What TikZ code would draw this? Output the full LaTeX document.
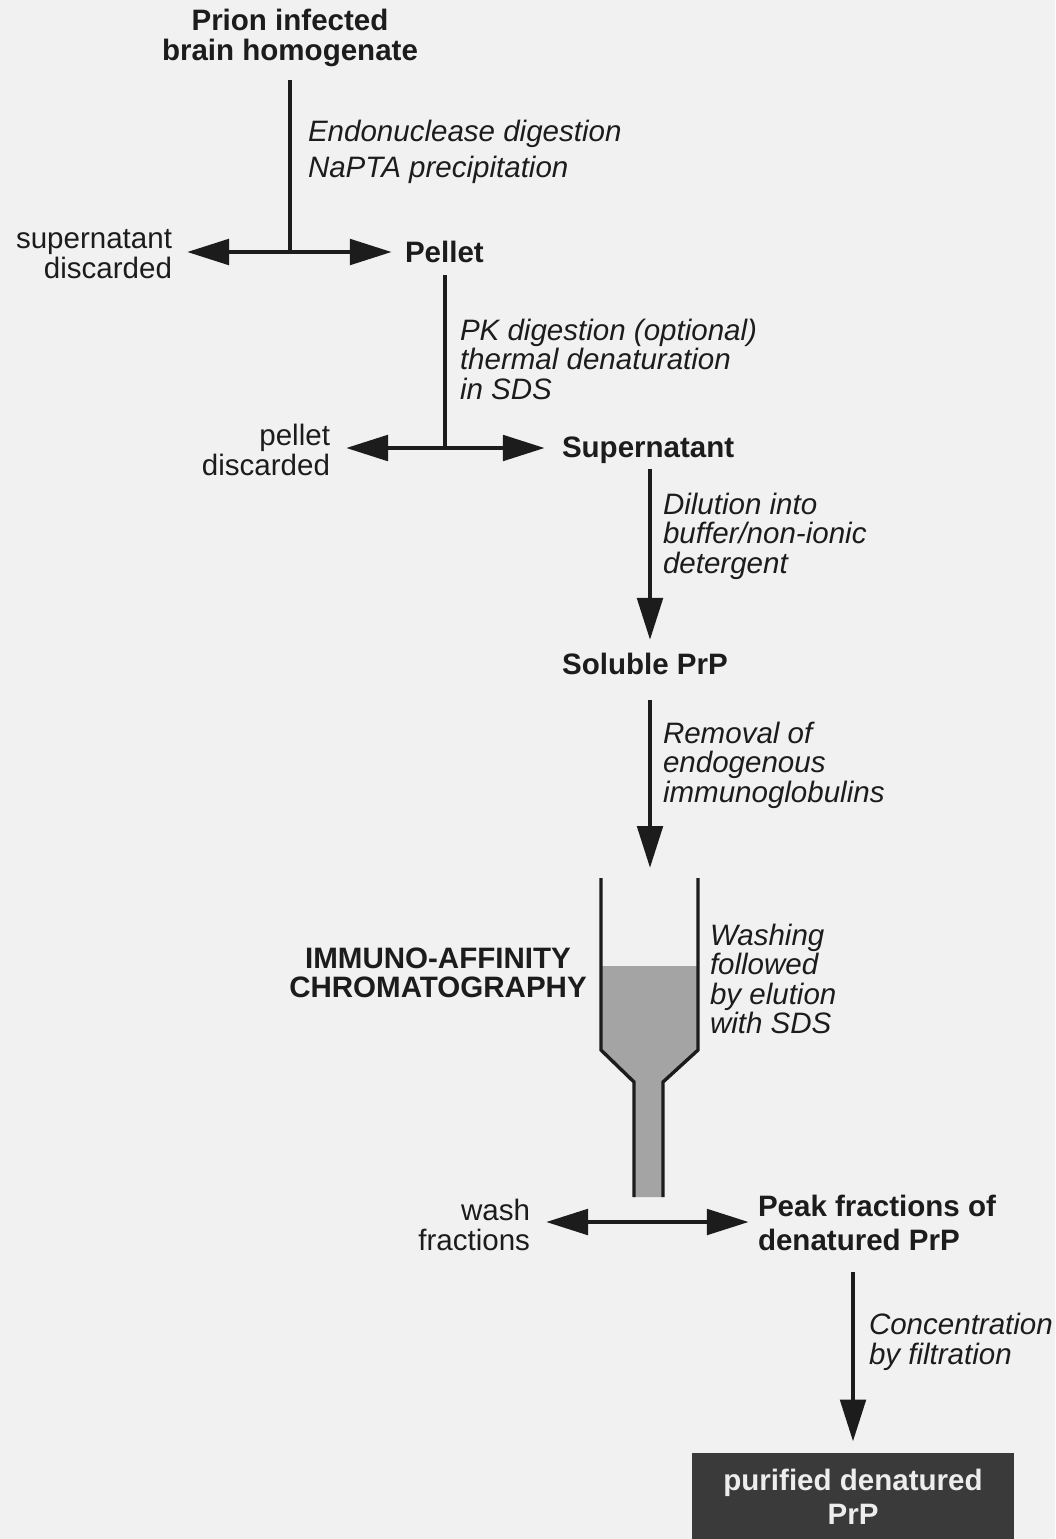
\documentclass[tikz,border=0pt]{standalone}
\usepackage{fontspec}
\setmainfont{Liberation Sans}
\usetikzlibrary{arrows.meta}
\definecolor{ink}{HTML}{1C1C1C}
\definecolor{paper}{HTML}{F1F1F1}
\definecolor{resin}{HTML}{A4A4A4}
\definecolor{boxgrey}{HTML}{3A3A3A}
\definecolor{boxtext}{HTML}{EDEDED}
\tikzset{
    side/.style={inner sep=0pt, outer sep=0pt, text=ink, font=\fontsize{21pt}{21pt}\selectfont},
    stage/.style={side, font=\fontsize{21pt}{21pt}\selectfont\bfseries},
    note/.style={side, font=\fontsize{21pt}{21pt}\selectfont\itshape, align=left, anchor=west},
    result/.style={inner sep=0pt, fill=boxgrey, text=boxtext, font=\fontsize{21pt}{21pt}\selectfont\bfseries, align=center, minimum width=8.05cm, minimum height=2.2cm},
    flow/.style={draw=ink, line width=0.12cm},
    wall/.style={draw=ink, line width=0.085cm, line join=miter}
}
\begin{document}
\begin{tikzpicture}[x=0.025cm, y=-0.025cm, >={Triangle[length=1.05cm,width=0.63cm]}]
                \fill[paper] (0,0) rectangle (1055,1539);
                \useasboundingbox (0,0) rectangle (1055,1539);
                \node[stage, align=center] (prion) at (290,38) {Prion infected\\brain homogenate};
                \node[note] (endo) at (308,152) {Endonuclease digestion\\[4.5pt]NaPTA precipitation};
                \node[side, align=right, anchor=east] (supdisc) at (172,254) {supernatant\\discarded};
                \node[stage, anchor=west] (pellet) at (405,252) {Pellet};
                \coordinate (j1) at (290,252);
                \draw[flow, shorten <=0.33cm] (prion.south) -- (j1);
                \draw[flow, <->, shorten <=0.375cm, shorten >=0.33cm] (supdisc.east |- j1) -- (pellet.west |- j1);
                \node[note] (pk) at (460,359) {PK digestion (optional)\\thermal denaturation\\in SDS};
                \node[side, align=right, anchor=east] (pelldisc) at (330,450) {pellet\\discarded};
                \node[stage, anchor=west] (supnat) at (562,450) {Supernatant};
                \coordinate (j2) at (445,448);
                \draw[flow, shorten <=0.3cm] (pellet.south -| j2) -- (j2);
                \draw[flow, <->, shorten <=0.4cm, shorten >=0.43cm] (pelldisc.east |- j2) -- (supnat.west |- j2);
                \coordinate (coltop) at (650,868);
                \node[note] (dil) at (663,536) {Dilution into\\buffer/non-ionic\\detergent};
                \node[stage] (soluble) at (645,664) {Soluble PrP};
                \draw[flow, ->, shorten <=0.15cm, shorten >=0.33cm] (supnat.south -| coltop) -- (soluble.north -| coltop);
                \node[note] (remov) at (663,765) {Removal of\\endogenous\\immunoglobulins};
                \draw[flow, ->, shorten <=0.63cm] (soluble.south -| coltop) -- (coltop);
                \node[stage, align=center] (iac) at (438,973) {IMMUNO-AFFINITY\\CHROMATOGRAPHY};
                \node[note] (elute) at (710,979) {Washing\\followed\\by elution\\with SDS};
                \fill[resin] (601,966) -- (698,966) -- (698,1050) -- (663,1082) -- (663,1197) -- (634,1197) -- (634,1082) -- (601,1050) -- cycle;
                \draw[wall] (601,878) -- (601,1050) -- (634,1082) -- (634,1197);
                \draw[wall] (698,878) -- (698,1050) -- (663,1082) -- (663,1197);
                \node[side, align=right, anchor=east] (washfr) at (530,1225) {wash\\fractions};
                \node[stage, align=left, anchor=west] (peak) at (758,1223) {Peak fractions of\\[3.5pt]denatured PrP};
                \coordinate (split) at (648,1222);
                \draw[flow, <->, shorten <=0.4cm, shorten >=0.23cm] (washfr.east |- split) -- (peak.west |- split);
                \node[note] (conc) at (869,1342) {Concentration\\by filtration};
                \node[result] (pure) at (853,1497) {purified denatured\\[3pt]PrP};
                \draw[flow, ->, shorten <=0.53cm, shorten >=0.28cm] (peak.south -| pure.north) -- (pure.north);
\end{tikzpicture}
\end{document}
